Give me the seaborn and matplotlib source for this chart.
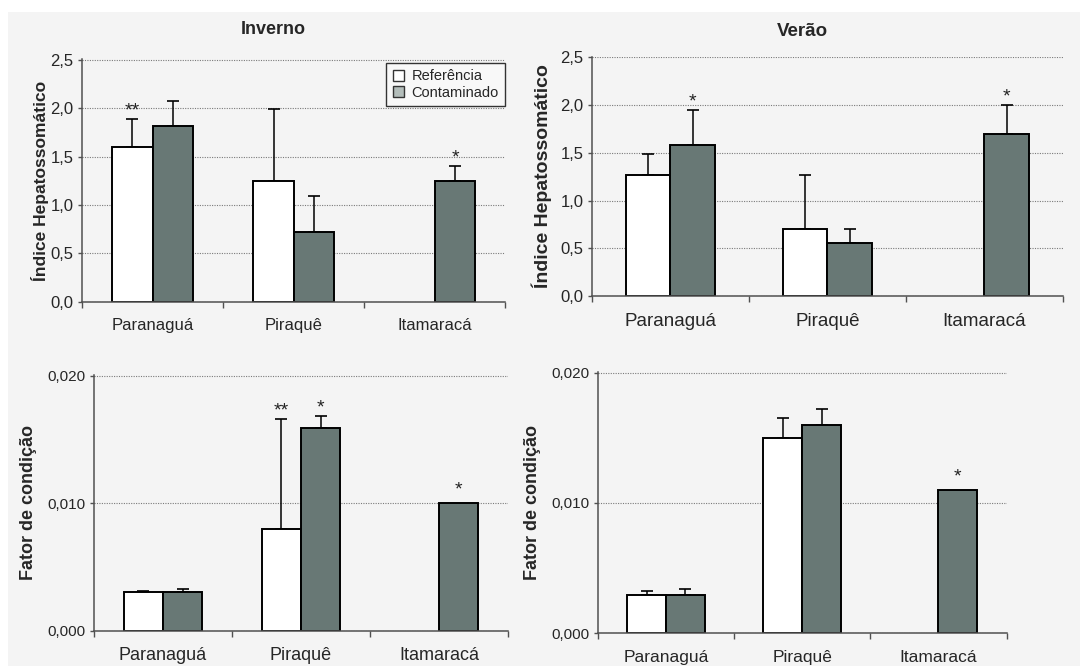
import numpy as np
import pandas as pd
import matplotlib
matplotlib.use('Agg')
import matplotlib.pyplot as plt
import seaborn as sns
from matplotlib.patches import Patch, Rectangle
from matplotlib.ticker import FuncFormatter

locais = ['Paranaguá', 'Piraquê', 'Itamaracá']
grupos = ['Referência', 'Contaminado']

# indice hepatossomatico: media e desvio (so para cima)
ihs_inv_ref = [1.60, 1.25, np.nan]
ihs_inv_ref_dp = [0.29, 0.74, np.nan]
ihs_inv_cont = [1.82, 0.72, 1.25]
ihs_inv_cont_dp = [0.25, 0.37, 0.15]
ihs_ver_ref = [1.27, 0.70, np.nan]
ihs_ver_ref_dp = [0.22, 0.57, np.nan]
ihs_ver_cont = [1.58, 0.55, 1.70]
ihs_ver_cont_dp = [0.37, 0.15, 0.30]

# fator de condicao
fc_inv_ref = [0.0030, 0.0080, np.nan]
fc_inv_ref_dp = [0.0001, 0.0086, np.nan]
fc_inv_cont = [0.0030, 0.0159, 0.0100]
fc_inv_cont_dp = [0.0003, 0.00096, 0.0]
fc_ver_ref = [0.0029, 0.0150, np.nan]
fc_ver_ref_dp = [0.00035, 0.0015, np.nan]
fc_ver_cont = [0.0029, 0.0160, 0.0110]
fc_ver_cont_dp = [0.00046, 0.0012, 0.0]

# asteriscos: (local, grupo, texto)
sig_ihs_inv = [(0, 'Referência', '**'), (2, 'Contaminado', '*')]
sig_ihs_ver = [(0, 'Contaminado', '*'), (2, 'Contaminado', '*')]
sig_fc_inv = [(1, 'Referência', '**'), (1, 'Contaminado', '*'), (2, 'Contaminado', '*')]
sig_fc_ver = [(2, 'Contaminado', '*')]

cores = {'Referência': 'white', 'Contaminado': '#667a76'}
fundo = '#f4f4f4'

sns.set_style('ticks')
plt.rcParams['font.family'] = ['Liberation Sans', 'DejaVu Sans']


def tabela(ref, ref_dp, cont, cont_dp):
    linhas = []
    for i, loc in enumerate(locais):
        if not np.isnan(ref[i]):
            linhas.append((loc, 'Referência', ref[i], ref_dp[i]))
        linhas.append((loc, 'Contaminado', cont[i], cont_dp[i]))
    return pd.DataFrame(linhas, columns=['local', 'grupo', 'valor', 'dp'])


def painel(ax, df, sig, ticks, fmt, ylabel, ylab_x, ylab_size, tick_size, cat_size):
    ax.set_facecolor('none')
    sns.barplot(data=df, x='local', y='valor', hue='grupo', order=locais,
                hue_order=grupos, palette=cores, edgecolor='black',
                linewidth=1.4, width=0.57, errorbar=None, legend=False,
                ax=ax, zorder=2)
    topo = {}
    for bar in ax.patches:
        if bar.get_height() == 0 or np.isnan(bar.get_height()):
            continue
        xc = bar.get_x() + bar.get_width() / 2
        i = int(round(xc))
        g = 'Referência' if xc < i else 'Contaminado'
        row = df[(df['local'] == locais[i]) & (df['grupo'] == g)].iloc[0]
        h = row['valor']
        if row['dp'] > 0:
            ax.errorbar(xc, h, yerr=[[0], [row['dp']]], fmt='none',
                        ecolor='black', elinewidth=1.1, capsize=4.2,
                        capthick=1.2, zorder=1)
        topo[(i, g)] = (xc, h + row['dp'], row['dp'] > 0)
    for i, g, txt in sig:
        xc, top, com_erro = topo[(i, g)]
        ax.annotate(txt, xy=(xc, top), xytext=(0, 2.5 if com_erro else 6),
                    textcoords='offset points', ha='center', va='baseline',
                    fontsize=14, color='#222222')

    ax.set_xlim(-0.5, 2.5)
    ax.set_ylim(0, ticks[-1] * 1.002)
    ax.set_yticks(ticks)
    ax.yaxis.set_major_formatter(FuncFormatter(lambda v, p: fmt.format(v).replace('.', ',')))
    ax.set_xticks([0, 1, 2])
    ax.set_xticklabels(locais, fontsize=cat_size)
    ax.set_xticks([-0.5, 0.5, 1.5, 2.5], minor=True)
    ax.tick_params(axis='x', which='major', length=0, pad=12)
    ax.tick_params(axis='x', which='minor', length=4, width=1, color='#505050')
    ax.tick_params(axis='y', length=3, width=1, color='#505050', pad=3,
                   labelsize=tick_size)
    ax.set_xlabel('')
    ax.set_ylabel(ylabel, fontsize=ylab_size, fontweight='bold')
    ax.yaxis.set_label_coords(ylab_x, 0.5)
    ax.yaxis.label.set_verticalalignment('center')
    ax.yaxis.grid(True, linestyle=(0, (1, 1.2)), color='#7a7a7a', lw=0.8, zorder=0)
    ax.set_axisbelow(True)
    sns.despine(ax=ax)
    for s in ['left', 'bottom']:
        ax.spines[s].set_color('#505050')
        ax.spines[s].set_linewidth(1.1)


fig = plt.figure(figsize=(10.8, 6.66), dpi=100)
fig.patches.append(Rectangle((8 / 1080, 0), 1, 1 - 12 / 666, transform=fig.transFigure,
                             facecolor=fundo, edgecolor='none', zorder=-10))

ax1 = fig.add_axes([0.0759, 0.547, 0.3921, 0.364])
ax2 = fig.add_axes([0.5481, 0.5556, 0.4361, 0.3589])
ax3 = fig.add_axes([0.0870, 0.0530, 0.3833, 0.3835])
ax4 = fig.add_axes([0.5537, 0.0495, 0.3783, 0.3919])

ticks_ihs = [0, 0.5, 1.0, 1.5, 2.0, 2.5]
ticks_fc = [0, 0.01, 0.02]

painel(ax1, tabela(ihs_inv_ref, ihs_inv_ref_dp, ihs_inv_cont, ihs_inv_cont_dp),
       sig_ihs_inv, ticks_ihs, '{:.1f}', 'Índice Hepatossomático', -0.099, 12.5, 12, 12)
painel(ax2, tabela(ihs_ver_ref, ihs_ver_ref_dp, ihs_ver_cont, ihs_ver_cont_dp),
       sig_ihs_ver, ticks_ihs, '{:.1f}', 'Índice Hepatossomático', -0.106, 14, 12, 13.5)
painel(ax3, tabela(fc_inv_ref, fc_inv_ref_dp, fc_inv_cont, fc_inv_cont_dp),
       sig_fc_inv, ticks_fc, '{:.3f}', 'Fator de condição', -0.158, 13, 11, 13)
painel(ax4, tabela(fc_ver_ref, fc_ver_ref_dp, fc_ver_cont, fc_ver_cont_dp),
       sig_fc_ver, ticks_fc, '{:.3f}', 'Fator de condição', -0.1615, 13, 11, 12.5)

fig.text(273 / 1080, 1 - 29 / 666, 'Inverno', ha='center', va='center',
         fontsize=13, fontweight='bold')
fig.text(802 / 1080, 1 - 31 / 666, 'Verão', ha='center', va='center',
         fontsize=13.5, fontweight='bold')

handles = [Patch(facecolor='white', edgecolor='#333333', linewidth=1),
           Patch(facecolor='#b3bdba', edgecolor='#333333', linewidth=1)]
leg = ax1.legend(handles, grupos, loc='upper right', bbox_to_anchor=(1.0, 0.985),
                 borderaxespad=0, fontsize=10.5, frameon=True, fancybox=False,
                 framealpha=1, facecolor='#f8f8f8', edgecolor='#333333',
                 handlelength=0.8, handleheight=0.8, handletextpad=0.5,
                 labelspacing=0.15, borderpad=0.45)
leg.get_frame().set_linewidth(1)

fig.savefig('out.png', dpi=100)
